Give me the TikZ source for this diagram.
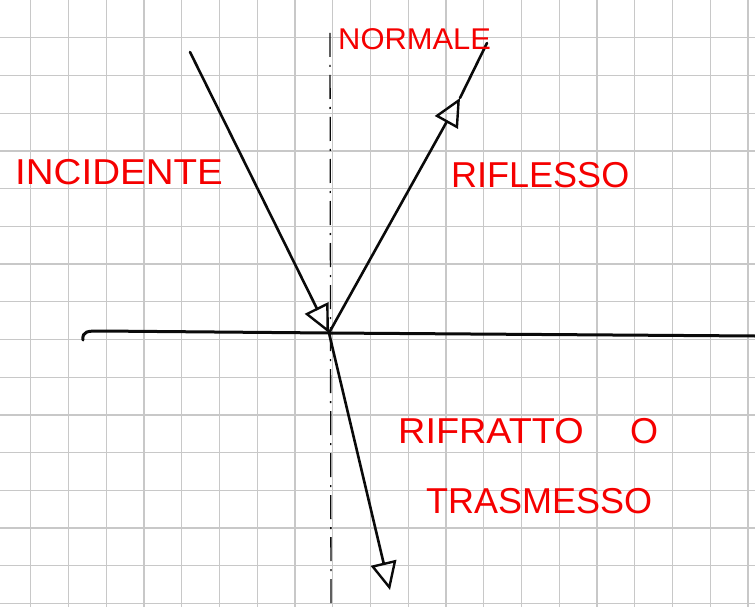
\documentclass[tikz,border=0pt]{standalone}
\usepackage{fontspec}
\setmainfont{Liberation Sans}
\usepackage{xcolor}
\definecolor{optred}{HTML}{F50000}
\definecolor{optgrid}{HTML}{C8C8C8}
\definecolor{optink}{HTML}{0A0A0A}
\usepackage{tikz}
\usetikzlibrary{arrows.meta}
\tikzset{
  gridline/.style={draw=optgrid, line width=1.3pt},
  raybeam/.style={draw=optink, line width=2.6pt, line cap=round,
    -{Triangle[open,length=28pt,width=26pt,line width=2.4pt]}},
  raytail/.style={draw=optink, line width=2.6pt, line cap=round},
  normline/.style={draw=optink, line width=1.3pt,
    dash pattern=on 24pt off 8pt on 2pt off 8pt},
  surfline/.style={draw=optink, line width=3pt, line cap=round},
  optlabel/.style={text=optred, anchor=base west, inner sep=0pt,
    font=\fontsize{36}{40}\selectfont}
}
\begin{document}
\begin{tikzpicture}[x=1pt, y=-1pt]
  \useasboundingbox[fill=white] (0,0) rectangle (755,607);

  \foreach \k in {1,...,16}
    \draw[gridline] (0,37.72*\k) -- (755,37.72*\k);
  \foreach \k in {0,...,19}
    \draw[gridline] (30.7+37.75*\k,0) -- (30.7+37.75*\k,607);

  \coordinate (O)     at (329,333);
  \coordinate (Nup)   at (330,33);
  \coordinate (Ndown) at (331,607);
  \coordinate (Sleft) at (83,340);
  \coordinate (Sright) at (755,336);
  \coordinate (Istart) at (190,52);
  \coordinate (Rmid)  at (460,98);
  \coordinate (Rend)  at (487,43);
  \coordinate (Tend)  at (390,590);

  \draw[normline] (Nup) -- (Ndown);
  \draw[surfline] (Sleft) .. controls (82,331) and (88,331) .. (100,331)
    -- (O) -- (Sright);

  \draw[raybeam] (Istart) -- (O);
  \draw[raybeam] (O) -- (Rmid);
  \draw[raytail] (Rmid) -- (Rend);
  \draw[raybeam] (O) -- (Tend);

  \node[optlabel, xscale=1.03] (normale) at (338,50)
    {\fontsize{30}{34}\selectfont NORMALE};
  \node[optlabel, xscale=1.07] (incidente) at (15,185) {INCIDENTE};
  \node[optlabel] (riflesso)  at (451,187) {RIFLESSO};
  \node[optlabel, xscale=1.05] (rifratto) at (398,443) {RIFRATTO};
  \node[optlabel] (oppure)    at (630,443) {O};
  \node[optlabel] (trasmesso) at (426,513) {TRASMESSO};
\end{tikzpicture}
\end{document}
